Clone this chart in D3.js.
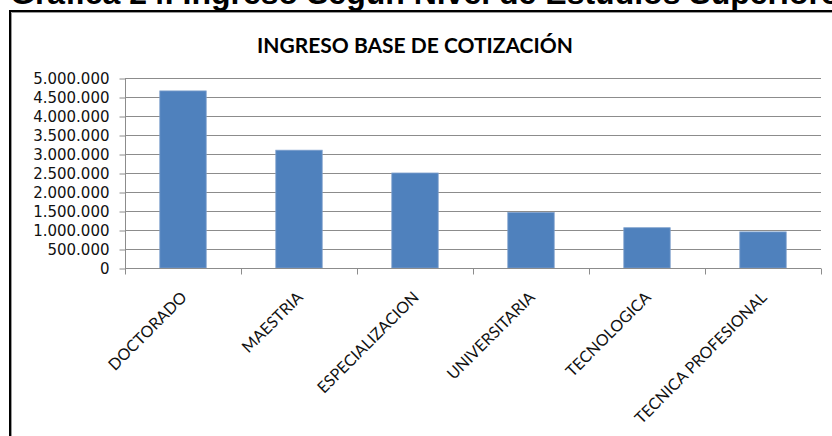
<!DOCTYPE html>
<html>
<head>
<meta charset="utf-8">
<script src="https://cdn.jsdelivr.net/npm/d3@7"></script>
<style>
  body { margin: 0; background: #fff; }
  svg { display: block; }
</style>
</head>
<body>
<svg id="chart"></svg>
<script>
const categories = ['DOCTORADO', 'MAESTRIA', 'ESPECIALIZACION', 'UNIVERSITARIA', 'TECNOLOGICA', 'TECNICA PROFESIONAL'];
const ingresos = [4660000, 3100000, 2500000, 1460000, 1060000, 950000];
const yTicks = [0, 500000, 1000000, 1500000, 2000000, 2500000, 3000000, 3500000, 4000000, 4500000, 5000000];

const width = 832;
const height = 436;

const svg = d3.select('#chart')
    .attr('width', width)
    .attr('height', height);

// encabezado del documento (cortado arriba)
svg.append('text')
    .attr('x', 10)
    .attr('y', 4)
    .style('font-family', 'Liberation Sans, Arial, sans-serif')
    .style('font-weight', 'bold')
    .style('font-size', '32px')
    .text('Gráfica 24. Ingreso Según Nivel de Estudios Superiores');

// marco del grafico
svg.append('rect')
    .attr('x', 10)
    .attr('y', 11)
    .attr('width', 900)
    .attr('height', 500)
    .attr('fill', 'none')
    .attr('stroke', '#000')
    .attr('stroke-width', 2);
svg.append('path')
    .attr('d', 'M11.5,460V12.5H900')
    .attr('fill', 'none')
    .attr('stroke', '#9a9a9a')
    .attr('stroke-width', 1);

svg.append('text')
    .attr('x', 415)
    .attr('y', 53)
    .attr('text-anchor', 'middle')
    .style('font-family', 'Lato, sans-serif')
    .style('font-weight', 'bold')
    .style('font-size', '21px')
    .text('INGRESO BASE DE COTIZACIÓN');

const x = d3.scaleBand()
    .domain(categories)
    .range([125, 821])
    .padding(0);

const y = d3.scaleLinear()
    .domain([0, 5000000])
    .range([268, 78]);

const fmt = d => d3.format(',')(d).replace(/,/g, '.');

// lineas de division
svg.append('g')
    .selectAll('line')
    .data(yTicks.filter(d => d > 0))
    .enter()
    .append('line')
    .attr('x1', 125)
    .attr('x2', 821)
    .attr('y1', d => Math.round(y(d)) + 0.5)
    .attr('y2', d => Math.round(y(d)) + 0.5)
    .attr('stroke', '#8c8c8c')
    .attr('stroke-width', 1);

// barras
const barW = x.bandwidth() * 0.4;
svg.append('g')
    .selectAll('rect')
    .data(ingresos)
    .enter()
    .append('rect')
    .attr('x', (d, i) => x(categories[i]) + (x.bandwidth() - barW) / 2)
    .attr('y', d => y(d))
    .attr('width', barW)
    .attr('height', d => y(0) - y(d))
    .attr('fill', '#4f81bd')
    .attr('stroke', '#7d9fcc')
    .attr('stroke-width', 0.8);

// eje Y
const yAxis = svg.append('g')
    .attr('transform', 'translate(125.5,0.5)')
    .call(d3.axisLeft(y).tickValues(yTicks).tickFormat(fmt).tickSize(6).tickPadding(10));
yAxis.select('.domain').attr('stroke', '#8c8c8c').attr('d', 'M0,' + y(5000000) + 'V' + y(0));
yAxis.selectAll('.tick line').attr('stroke', '#8c8c8c');
yAxis.selectAll('.tick text')
    .style('font-family', 'DejaVu Sans, Verdana, sans-serif')
    .style('font-size', '15px')
    .attr('fill', '#111');

// eje X
const xAxis = svg.append('g')
    .attr('transform', 'translate(0,' + (y(0) + 0.5) + ')');
xAxis.append('line')
    .attr('x1', 125).attr('x2', 821)
    .attr('stroke', '#8c8c8c');
xAxis.selectAll('.xt')
    .data(categories.concat(['end']))
    .enter()
    .append('line')
    .attr('class', 'xt')
    .attr('x1', (d, i) => Math.round(i < categories.length ? x(d) : x.range()[1]) + 0.5)
    .attr('x2', (d, i) => Math.round(i < categories.length ? x(d) : x.range()[1]) + 0.5)
    .attr('y1', 0)
    .attr('y2', 6)
    .attr('stroke', '#8c8c8c');

xAxis.selectAll('.xl')
    .data(categories)
    .enter()
    .append('text')
    .attr('class', 'xl')
    .attr('transform', d => 'translate(' + (x(d) + x.bandwidth() / 2 - 3) + ',22) rotate(-45)')
    .attr('text-anchor', 'end')
    .attr('dy', '0.7em')
    .style('font-family', 'Lato, sans-serif')
    .style('font-size', '16px')
    .attr('fill', '#111')
    .text(d => d);
</script>
</body>
</html>
